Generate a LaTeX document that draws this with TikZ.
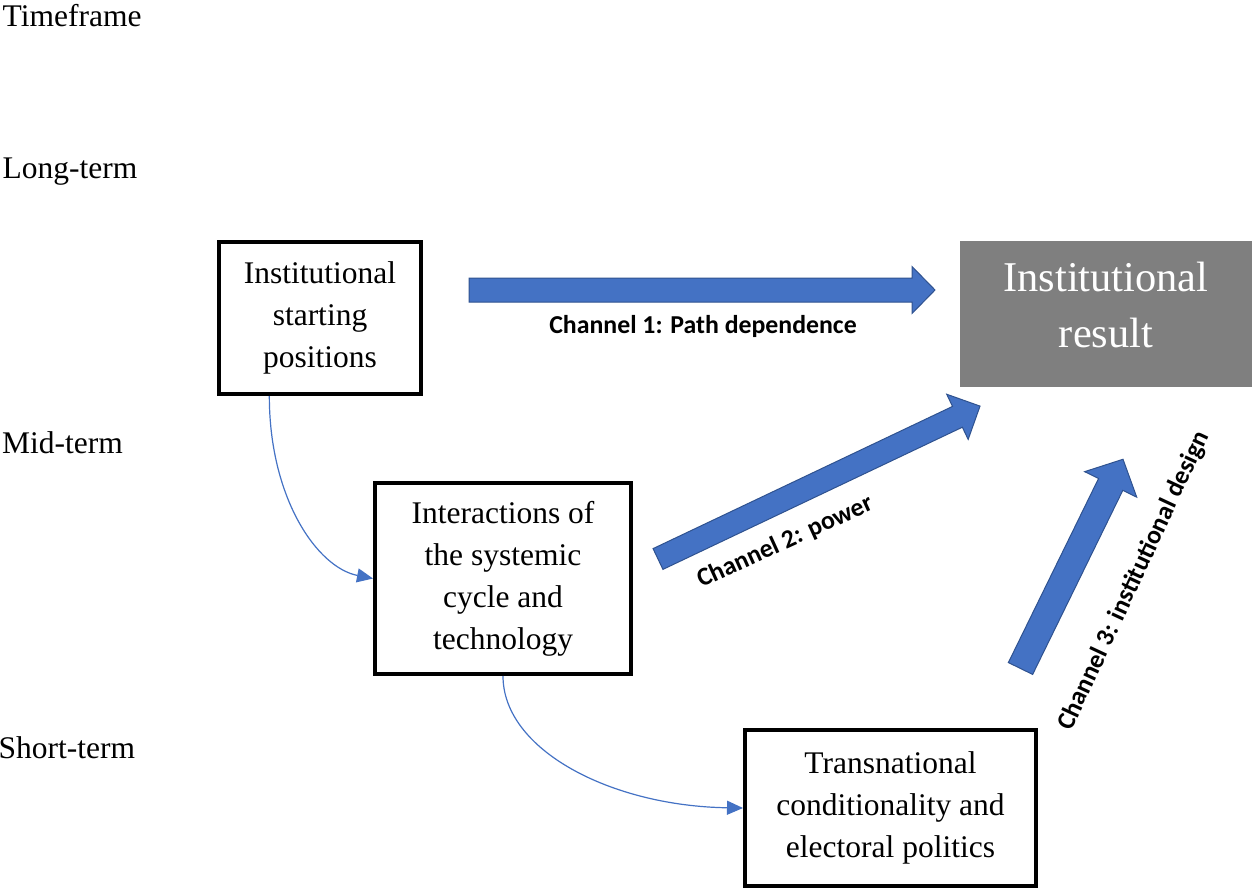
\documentclass[tikz,border=0pt]{standalone}
\usepackage{fontspec}
\setmainfont{Liberation Serif}
\newfontfamily\chfont{Carlito}
\usetikzlibrary{arrows.meta,calc}
\definecolor{accent}{HTML}{4472C4}
\definecolor{accentdark}{HTML}{2F528F}
\definecolor{resgray}{HTML}{7F7F7F}
\begin{document}
\begin{tikzpicture}[x=1pt,y=-1pt,
  stagebox/.style={draw=black, line width=4pt, fill=white, inner sep=0pt, align=center, font=\fontsize{31.5}{42}\selectfont},
  timelabel/.style={anchor=base west, inner sep=0pt, font=\fontsize{31.5}{42}\selectfont},
  chanlabel/.style={inner sep=0pt, font=\chfont\bfseries\fontsize{25.8}{30}\selectfont},
  resbox/.style={fill=resgray, inner sep=0pt, minimum width=292pt, minimum height=146pt},
  restext/.style={text=white, align=center, inner sep=0pt, font=\fontsize{42.4}{56}\selectfont},
  flow/.style={draw=accent, line width=1.2pt, -{Triangle[length=16pt,width=14pt]}},
  blockarrow/.style={fill=accent, draw=accentdark, line width=1pt, line join=miter}
]
\useasboundingbox (0,0) rectangle (1252,891);

% timeframe labels
\node[timelabel] (tf) at (2.5,26.7) {Timeframe};
\node[timelabel] (lt) at (2.5,178) {Long-term};
\node[timelabel] (mt) at (2,453) {Mid-term};
\node[timelabel] (st) at (-1.5,758) {Short-term};

% boxes
\node[stagebox, minimum width=202pt, minimum height=152pt] (start) at (320,318) {Institutional\\starting\\positions};
\node[stagebox, minimum width=256pt, minimum height=191pt] (inter) at (503,578.5) {Interactions of\\the systemic\\cycle and\\technology};
\node[stagebox, minimum width=291pt, minimum height=156pt] (trans) at (890.5,808) {Transnational\\conditionality and\\electoral politics};

% result
\node[resbox] (res) at (1106,314) {};
\node[restext] (restxt) at ([yshift=9.5pt]res.center) {Institutional\\result};

% block arrows
\begin{scope}[shift={(469,290)}]
  \draw[blockarrow] (0,-12) -- (443,-12) -- (443,-23.5) -- (466,0) -- (443,23.5) -- (443,12) -- (0,12) -- cycle;
\end{scope}
\begin{scope}[shift={(658,559)}, rotate=25.4]
  \draw[blockarrow] (0,-11.5) -- (331.5,-11.5) -- (331.5,-25) -- (356.5,0) -- (331.5,25) -- (331.5,11.5) -- (0,11.5) -- cycle;
\end{scope}
\begin{scope}[shift={(1020.5,668.5)}, rotate=63.9]
  \draw[blockarrow] (0,-13.5) -- (205,-13.5) -- (205,-29) -- (233,0) -- (205,29) -- (205,13.5) -- (0,13.5) -- cycle;
\end{scope}

% channel labels
\node[chanlabel, anchor=base] (ch1) at (703,333) {Channel 1: Path dependence};
\node[chanlabel, rotate=24.5] (ch2) at (785,542) {Channel 2: power};
\node[chanlabel, rotate=65] (ch3) at (1134,581) {Channel 3: institutional design};

% flow connectors
\coordinate (s1) at ($(start.south west)!0.254!(start.south east)$);
\draw[flow] (s1) .. controls ($(s1)+(0,102)$) and ($(inter.west)+(-56,-11)$) .. (inter.west);
\draw[flow] (inter.south) .. controls ($(inter.south)+(0,74)$) and ($(trans.west)+(-132,-2)$) .. (trans.west);
\end{tikzpicture}
\end{document}
